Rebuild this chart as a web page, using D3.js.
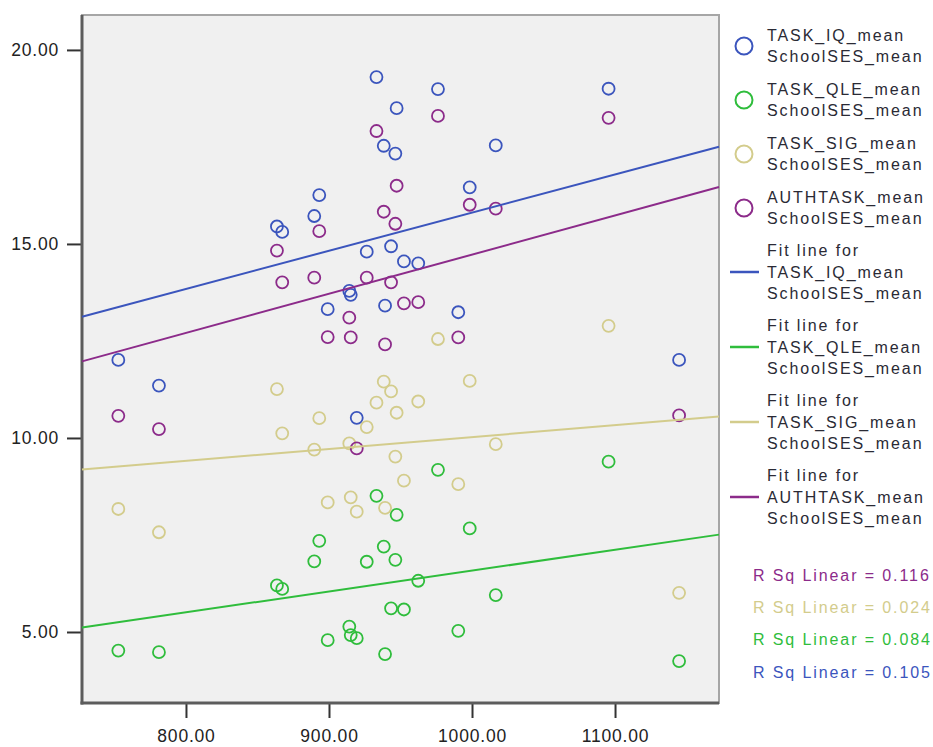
<!DOCTYPE html>
<html>
<head>
<meta charset="utf-8">
<script src="https://cdn.jsdelivr.net/npm/d3@7"></script>
<style>
    body { margin: 0; background: #ffffff; }
    text { font-family: "Liberation Sans", Arial, Helvetica, sans-serif; }
</style>
</head>
<body>
<div id="chart"></div>
<script>
// values, one school per position
const schoolSES = [752.7, 781.1, 863.6, 867.3, 889.7, 893.2, 899.1, 914.2, 915.2, 919.4,
    926.4, 933.2, 938.3, 939.2, 943.4, 947.3, 946.4, 952.4, 962.4, 976.2,
    990.4, 998.4, 1016.6, 1095.5, 1144.8];
const taskIQ = [12.01, 11.35, 15.45, 15.31, 15.72, 16.26, 13.32, 13.79, 13.69, 10.52,
    14.80, 19.30, 17.53, 13.41, 14.94, 18.50, 17.33, 14.55, 14.50, 18.99,
    13.24, 16.46, 17.54, 19.00, 12.01];
const taskQLE = [4.52, 4.48, 6.20, 6.11, 6.82, 7.35, 4.79, 5.14, 4.92, 4.84,
    6.81, 8.51, 7.20, 4.43, 5.61, 8.02, 6.86, 5.58, 6.32, 9.18,
    5.03, 7.67, 5.95, 9.39, 4.25];
const taskSIG = [8.17, 7.57, 11.26, 10.12, 9.70, 10.51, 8.34, 9.86, 8.47, 8.10,
    10.28, 10.91, 11.45, 8.20, 11.20, 10.65, 9.52, 8.90, 10.94, 12.55,
    8.81, 11.47, 9.84, 12.89, 6.01];
const authTask = [10.57, 10.23, 14.83, 14.01, 14.13, 15.33, 12.60, 13.10, 12.59, 9.73,
    14.13, 17.91, 15.83, 12.41, 14.01, 16.50, 15.52, 13.47, 13.50, 18.30,
    12.59, 16.01, 15.91, 18.25, 10.58];

const seriesNames = ["TASK_IQ_mean", "TASK_QLE_mean", "TASK_SIG_mean", "AUTHTASK_mean"];
const seriesColors = ["#3b55bd", "#2fbd3c", "#d3cc8c", "#8c2b8a"];
const rSqLabels = ["R Sq Linear = 0.116", "R Sq Linear = 0.024", "R Sq Linear = 0.084", "R Sq Linear = 0.105"];
const rSqColors = ["#8c2b8a", "#d3cc8c", "#2fbd3c", "#3b55bd"];
const xTicks = [800, 900, 1000, 1100];
const yTicks = [5, 10, 15, 20];

function drawChart() {
    const allSeries = [taskIQ, taskQLE, taskSIG, authTask];

    const plot = { left: 82, right: 719, top: 15, bottom: 703 };

    const svg = d3.select("#chart")
        .append("svg")
        .attr("width", 933)
        .attr("height", 747);

    const xScale = d3.scaleLinear()
        .domain([727.3, 1172.7])
        .range([plot.left, plot.right]);

    const yScale = d3.scaleLinear()
        .domain([3.17, 20.9])
        .range([plot.bottom, plot.top]);

    // plot background + frame
    svg.append("rect")
        .attr("x", plot.left)
        .attr("y", plot.top)
        .attr("width", plot.right - plot.left)
        .attr("height", plot.bottom - plot.top)
        .attr("fill", "#f0f0f0")
        .attr("stroke", "#a6a6a6")
        .attr("stroke-width", 2);

    // axes
    const yAxis = svg.append("g")
        .attr("transform", `translate(${plot.left}, 0)`)
        .call(d3.axisLeft(yScale).tickValues(yTicks).tickFormat(d3.format(".2f")).tickSize(15).tickPadding(8));
    const xAxis = svg.append("g")
        .attr("transform", `translate(0, ${plot.bottom})`)
        .call(d3.axisBottom(xScale).tickValues(xTicks).tickFormat(d3.format(".2f")).tickSize(15).tickPadding(12));

    [xAxis, yAxis].forEach(a => {
        a.select(".domain").remove();
        a.selectAll(".tick line").attr("stroke", "#333").attr("stroke-width", 2);
        a.selectAll(".tick text")
            .attr("fill", "#222")
            .style("font-size", "17.5px")
            .style("letter-spacing", "0.8px");
    });

    svg.append("line")
        .attr("x1", plot.left).attr("x2", plot.left)
        .attr("y1", plot.top).attr("y2", plot.bottom + 1.5)
        .attr("stroke", "#5c5c5c").attr("stroke-width", 3);
    svg.append("line")
        .attr("x1", plot.left - 1.5).attr("x2", plot.right)
        .attr("y1", plot.bottom).attr("y2", plot.bottom)
        .attr("stroke", "#5c5c5c").attr("stroke-width", 3);

    // points
    allSeries.forEach((vals, s) => {
        svg.append("g")
            .selectAll("circle")
            .data(vals)
            .enter()
            .append("circle")
            .attr("cx", (d, i) => xScale(schoolSES[i]))
            .attr("cy", d => yScale(d))
            .attr("r", 6)
            .attr("fill", "none")
            .attr("stroke", seriesColors[s])
            .attr("stroke-width", 1.8);
    });

    // least squares fit lines
    const [x0, x1] = xScale.domain();
    allSeries.forEach((vals, s) => {
        const mx = d3.mean(schoolSES), my = d3.mean(vals);
        let sxy = 0, sxx = 0;
        schoolSES.forEach((x, i) => {
            sxy += (x - mx) * (vals[i] - my);
            sxx += (x - mx) * (x - mx);
        });
        const b = sxy / sxx, a = my - b * mx;
        svg.append("line")
            .attr("x1", xScale(x0)).attr("y1", yScale(a + b * x0))
            .attr("x2", xScale(x1)).attr("y2", yScale(a + b * x1))
            .attr("stroke", seriesColors[s])
            .attr("stroke-width", 2);
    });

    // legend: markers
    const legend = svg.append("g").style("font-size", "16px").style("letter-spacing", "1.9px");
    seriesNames.forEach((name, i) => {
        const cy = 46 + i * 54;
        legend.append("circle")
            .attr("cx", 744).attr("cy", cy).attr("r", 8.5)
            .attr("fill", "none")
            .attr("stroke", seriesColors[i])
            .attr("stroke-width", 2);
        legend.append("text").attr("x", 767).attr("y", cy - 11).attr("dy", "0.35em")
            .attr("fill", "#2a2a35").text(name);
        legend.append("text").attr("x", 767).attr("y", cy + 10).attr("dy", "0.35em")
            .attr("fill", "#2a2a35").text("SchoolSES_mean");
    });

    // legend: fit lines
    seriesNames.forEach((name, i) => {
        const cy = 272 + i * 75;
        legend.append("line")
            .attr("x1", 730).attr("x2", 759)
            .attr("y1", cy).attr("y2", cy)
            .attr("stroke", seriesColors[i])
            .attr("stroke-width", 2.5);
        ["Fit line for", name, "SchoolSES_mean"].forEach((t, k) => {
            legend.append("text").attr("x", 767).attr("y", cy + (k - 1) * 21.5).attr("dy", "0.35em")
                .attr("fill", "#2a2a35").text(t);
        });
    });

    // R squared labels
    legend.selectAll(".rsq")
        .data(rSqLabels)
        .enter()
        .append("text")
        .attr("class", "rsq")
        .attr("x", 753)
        .attr("y", (d, i) => 575 + i * 32.3)
        .attr("dy", "0.35em")
        .attr("fill", (d, i) => rSqColors[i])
        .text(d => d);
}

drawChart();
</script>
</body>
</html>
